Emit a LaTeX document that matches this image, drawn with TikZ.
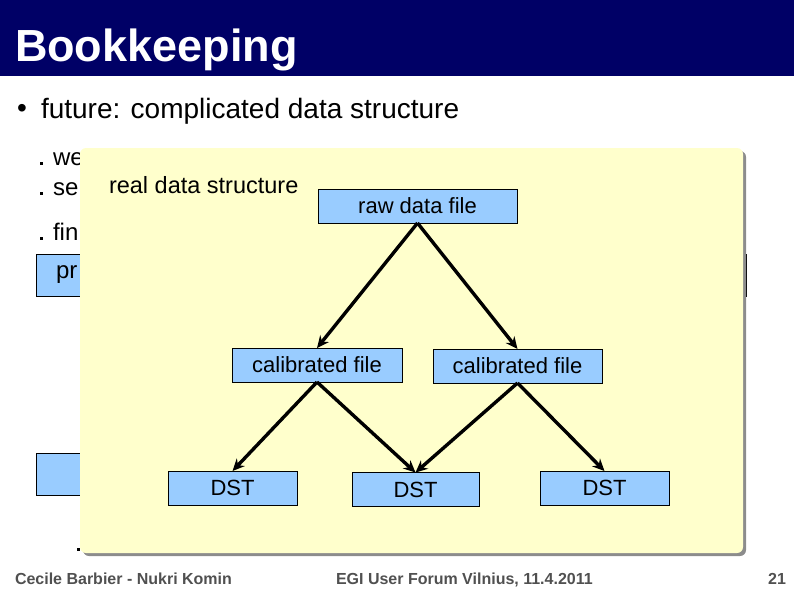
\documentclass[tikz,border=0pt]{standalone}
\usepackage{fontspec}
\setmainfont{Liberation Sans}
\usetikzlibrary{arrows.meta, positioning, shadows}

\definecolor{titleblue}{HTML}{000066}
\definecolor{panelyellow}{HTML}{FFFFCC}
\definecolor{boxblue}{HTML}{99CCFF}
\definecolor{footgray}{HTML}{505050}

\begin{document}
\begin{tikzpicture}[
  x=1pt, y=-1pt,
  every node/.style={inner sep=0pt, outer sep=0pt},
  titlebar/.style={fill=titleblue, anchor=north west, minimum width=794pt, minimum height=76pt},
  titletext/.style={font=\fontsize{45}{54}\selectfont\bfseries, text=white, anchor=base west},
  bodytext/.style={font=\fontsize{28}{34}\selectfont, anchor=base west},
  subtext/.style={font=\fontsize{24}{29}\selectfont, anchor=base west},
  subdot/.style={fill=black, minimum size=3pt},
  bluebox/.style={draw=black, line width=0.8pt, fill=boxblue, minimum height=34pt, font=\fontsize{22}{26}\selectfont},
  panel/.style={fill=panelyellow, rounded corners=6pt, anchor=north west,
    drop shadow={shadow xshift=3pt, shadow yshift=-3pt, fill=black!45, opacity=1}},
  arrow/.style={-{Stealth[length=12pt, width=11pt]}, line width=3.4pt},
  foottext/.style={font=\fontsize{16}{19}\selectfont\bfseries, text=footgray, anchor=base west}
]
\useasboundingbox (0,0) rectangle (794,595);

% Title
\node[titlebar] (bar) at (0,0) {};
\node[titletext] (title) at (15,61) {Bookkeeping};

% Bullets behind the overlay
\node[font=\fontsize{28}{34}\selectfont] (dot0) at (22,111) {•};
\node[bodytext] (future) at (41,118) {future: complicated data structure};
\node[subdot] (dot1) at (41,163) {};
\node[subtext] (we) at (53,165) {we};
\node[subdot] (dot2) at (41,193) {};
\node[subtext] (se) at (53,195) {se};
\node[subdot] (dot3) at (41,238) {};
\node[subtext] (fin) at (53,240) {fin};
\node[bluebox, anchor=north west, minimum width=710pt, minimum height=42pt] (probox) at (36,254) {};
\node[subtext] (pro) at (56,278) {pr};
\node[bluebox, anchor=north west, minimum width=300pt, minimum height=42pt] (lowbox) at (36,453) {};
\node[subdot] (dot4) at (78,549) {};

% Overlay panel
\node[panel, minimum width=663pt, minimum height=405pt] (panel) at (80,148) {};
\node[font=\fontsize{23.5}{28}\selectfont, anchor=base west] (caption) at (109,193) {real data structure};

% Tree
\node[bluebox, minimum width=199pt] (raw) at (417.5,206) {raw data file};
\node[bluebox, minimum width=170pt] (cal1) at (317,365) {calibrated file};
\node[bluebox, minimum width=169pt] (cal2) at (517.5,366) {calibrated file};
\node[bluebox, minimum width=129pt] (dst1) at (232.5,488) {DST};
\node[bluebox, minimum width=127pt] (dst2) at (415.5,489.5) {DST};
\node[bluebox, minimum width=129pt] (dst3) at (604.5,488) {DST};

\draw[arrow] (raw.south) -- (cal1.north);
\draw[arrow] (raw.south) -- (cal2.north);
\draw[arrow] (cal1.south) -- (dst1.north);
\draw[arrow] (cal1.south) -- (dst2.north);
\draw[arrow] (cal2.south) -- (dst2.north);
\draw[arrow] (cal2.south) -- (dst3.north);

% Footer
\node[foottext] (authors) at (15,584) {Cecile Barbier - Nukri Komin};
\node[foottext] (event) at (336,584) {EGI User Forum Vilnius, 11.4.2011};
\node[foottext, anchor=base east] (page) at (786,584) {21};

\end{tikzpicture}
\end{document}
